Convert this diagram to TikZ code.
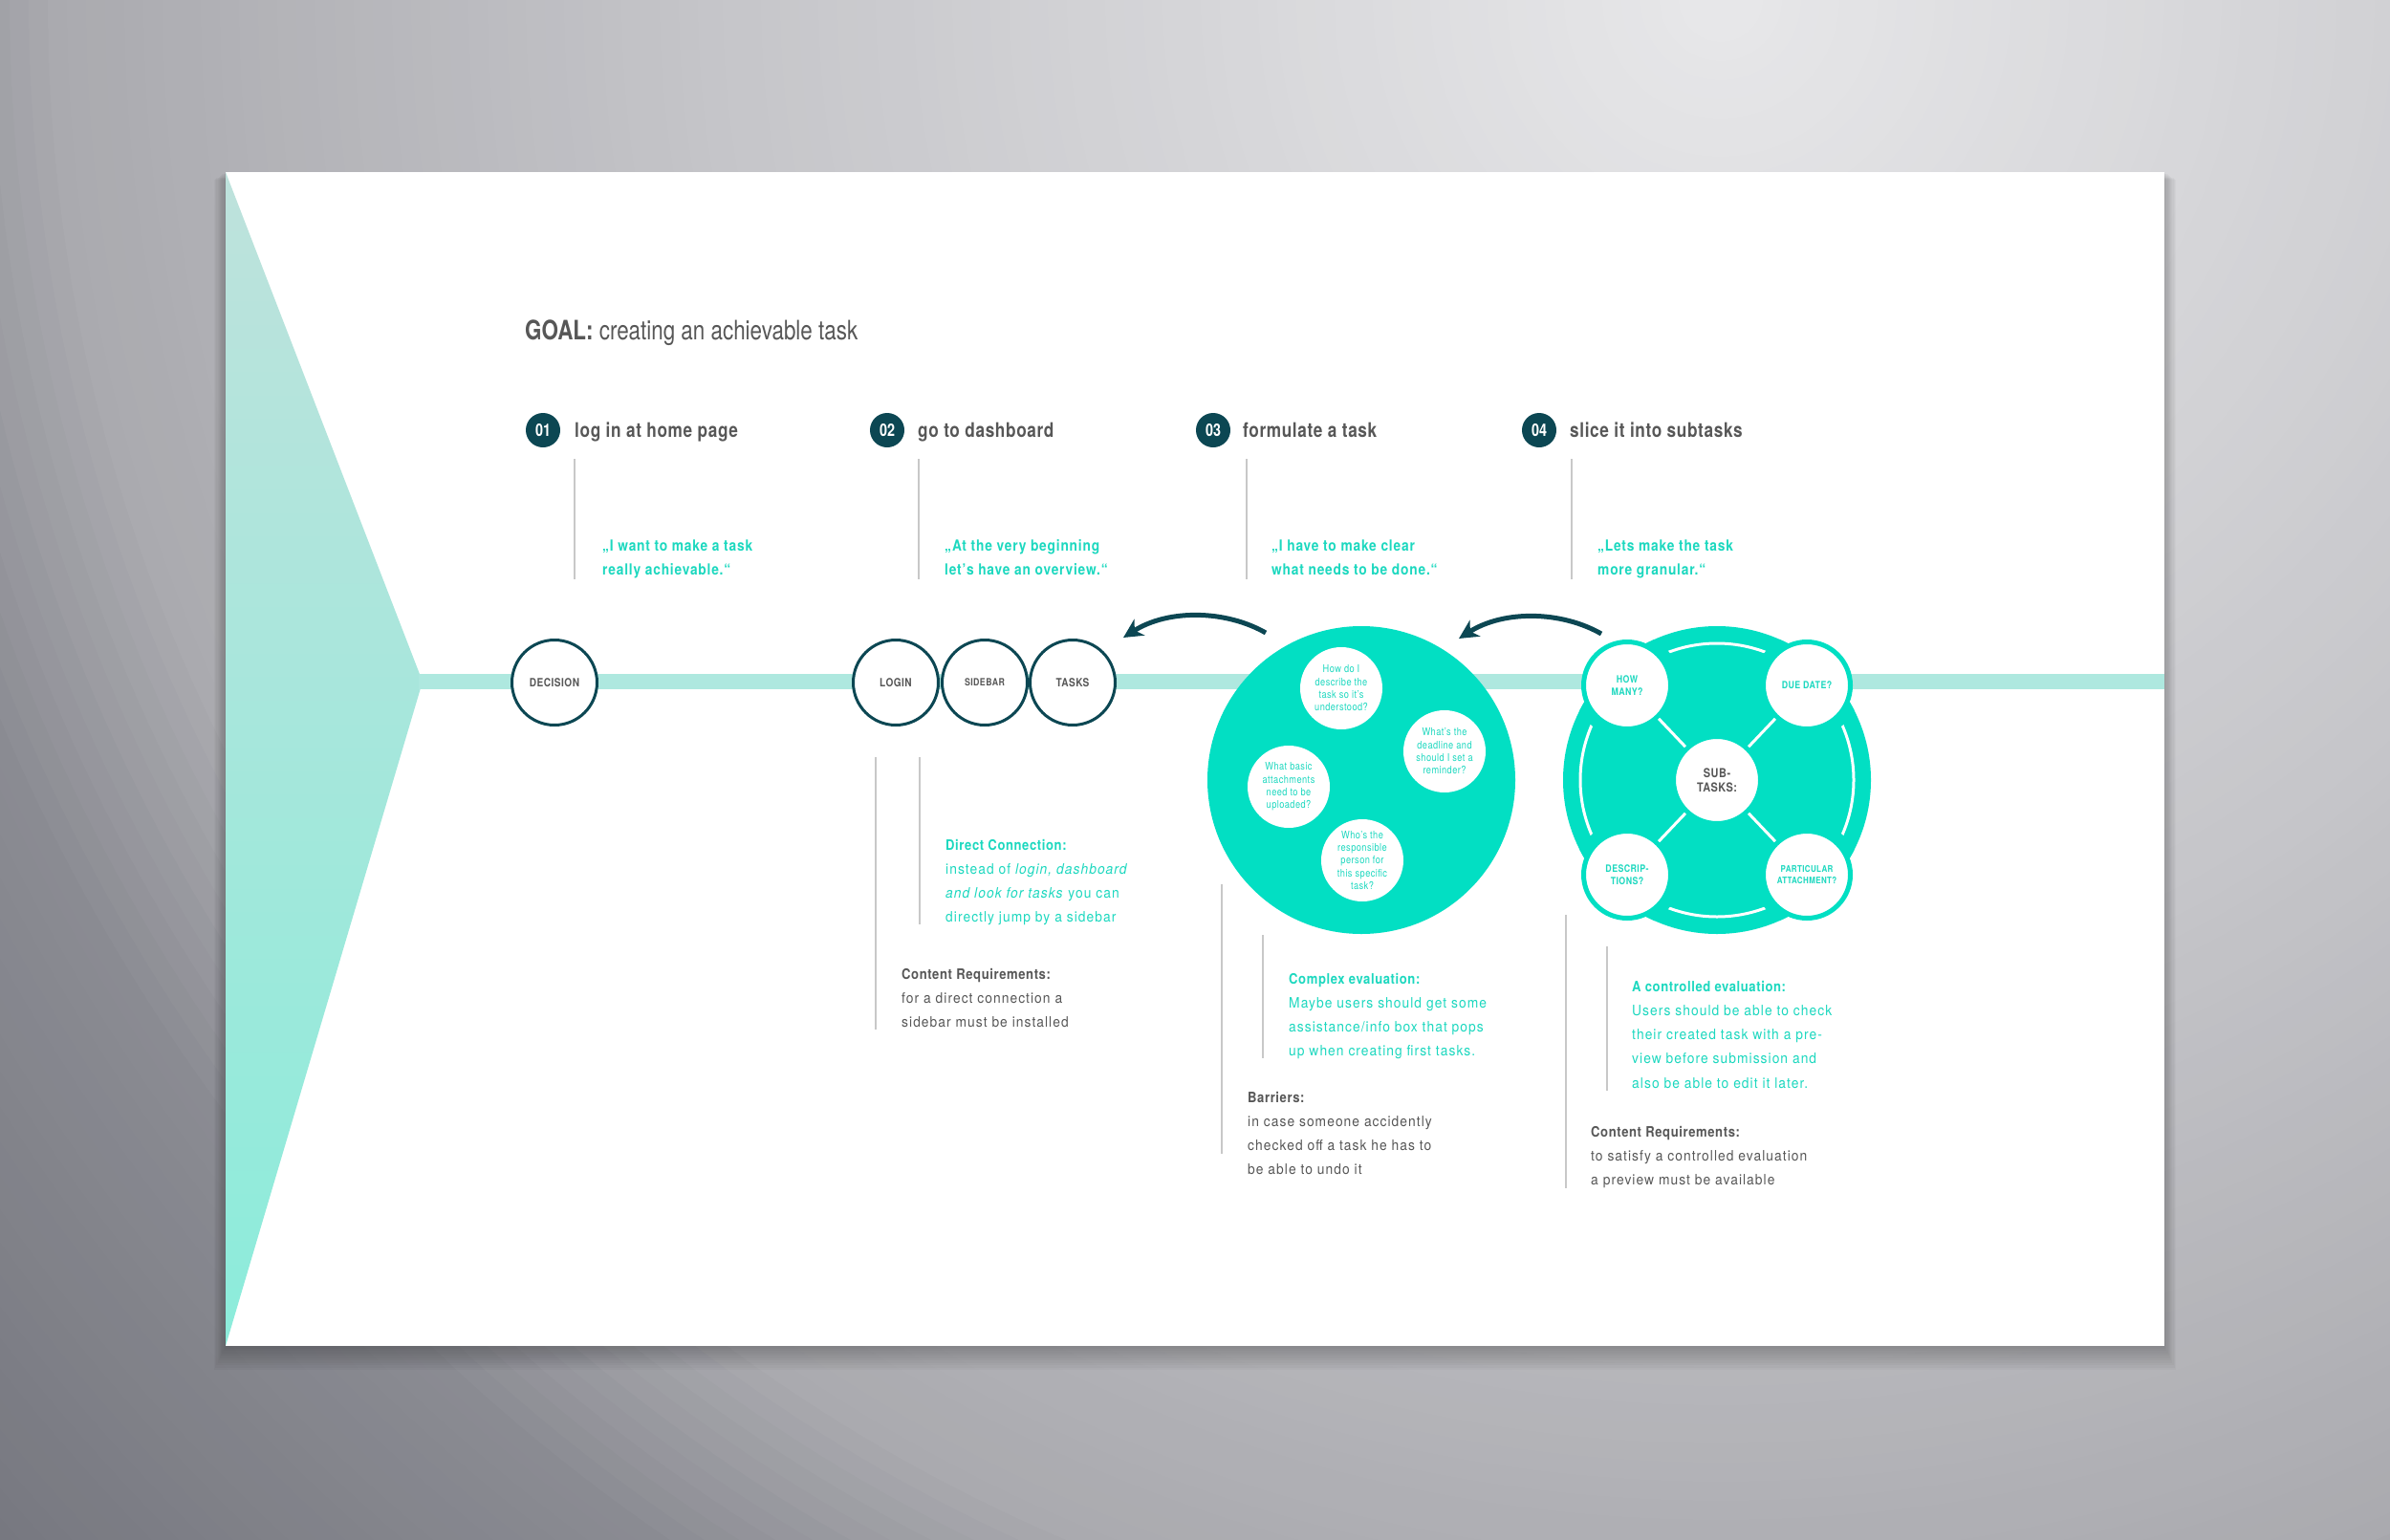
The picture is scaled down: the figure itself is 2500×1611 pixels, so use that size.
\documentclass[tikz,border=0pt]{standalone}
\usepackage{fontspec}
\setmainfont{TeX Gyre Heros}
\newfontfamily\cnd{TeX Gyre Heros}[FakeStretch=0.80]
\newfontfamily\ttl{TeX Gyre Heros}[FakeStretch=0.82,LetterSpace=3]
\newfontfamily\qfont{TeX Gyre Heros}[FakeStretch=0.86,LetterSpace=5]
\newfontfamily\bdy{TeX Gyre Heros}[FakeStretch=0.92,LetterSpace=7]
\newfontfamily\bdyb{TeX Gyre Heros}[FakeStretch=0.87,LetterSpace=4]
\newfontfamily\smf{TeX Gyre Heros}[FakeStretch=0.84,LetterSpace=4]
\usetikzlibrary{arrows.meta}
\definecolor{tealc}{HTML}{02DFC3}
\definecolor{tealt}{HTML}{1CD8BF}
\definecolor{bandc}{HTML}{AEE8DF}
\definecolor{darkc}{HTML}{0C4753}
\definecolor{grayt}{HTML}{575757}
\definecolor{vlinec}{HTML}{C8C8C8}
\definecolor{triTop}{HTML}{BEE2DC}
\definecolor{triBot}{HTML}{8CECDB}
\definecolor{bg0}{HTML}{E8E8EA}
\definecolor{bg1}{HTML}{C5C5C9}
\definecolor{bg2}{HTML}{AAAAAF}
\definecolor{bg3}{HTML}{8A8B92}
\definecolor{bg4}{HTML}{74757D}
\newcommand{\bh}[1]{{\bdyb\bfseries #1}}
\begin{document}
\begin{tikzpicture}[x=1pt,y=-1pt,
  num/.style={circle, fill=darkc, text=white, minimum size=36pt, inner sep=0pt, font=\cnd\bfseries\fontsize{18}{18}\selectfont},
  title/.style={anchor=base west, text=grayt, inner sep=0pt, font=\ttl\bfseries\fontsize{21}{21}\selectfont},
  quote/.style={anchor=base west, align=left, text=tealt, inner sep=0pt, font=\qfont\bfseries\fontsize{16}{25.5}\selectfont},
  stage/.style={circle, draw=darkc, line width=3pt, fill=white, minimum size=89pt, inner sep=0pt, text=grayt, font=\smf\bfseries\fontsize{12}{12}\selectfont},
  bigc/.style={circle, fill=tealc, minimum size=322pt, inner sep=0pt},
  qc/.style={circle, fill=white, minimum size=86pt, inner sep=0pt, align=center, text=tealt, font=\smf\fontsize{11}{13.3}\selectfont},
  sc/.style={circle, fill=white, draw=tealc, line width=5pt, minimum size=91pt, inner sep=0pt, align=center, text=tealt, font=\smf\bfseries\fontsize{10.5}{12.5}\selectfont},
  vline/.style={draw=vlinec, line width=2.5pt},
  body/.style={anchor=base west, align=left, inner sep=0pt, font=\bdy\fontsize{15}{25.3}\selectfont},
  arr/.style={draw=darkc, line width=5pt, -{Stealth[length=20pt,width=20pt,inset=6pt]}}
]
\useasboundingbox (0,0) rectangle (2500,1611);
% background (concentric bands)
\coordinate (bgc) at (1800,0);
\begin{scope}
\clip (0,0) rectangle (2500,1611);
\fill[bg4] (0,0) rectangle (2500,1611);
\foreach \r in {2500,2480,...,1980}{
  \pgfmathsetmacro\p{(\r-1970)/5.3}
  \fill[bg4!\p!bg3] (bgc) circle[radius=\r pt];
}
\foreach \r in {1970,1950,...,1760}{
  \pgfmathsetmacro\p{(\r-1750)/2.2}
  \fill[bg3!\p!bg2] (bgc) circle[radius=\r pt];
}
\foreach \r in {1750,1730,...,1070}{
  \pgfmathsetmacro\p{(\r-1064)/6.86}
  \fill[bg2!\p!bg1] (bgc) circle[radius=\r pt];
}
\foreach \r in {1064,1044,...,20}{
  \pgfmathsetmacro\p{\r/10.64}
  \fill[bg1!\p!bg0] (bgc) circle[radius=\r pt];
}
\end{scope}
% card shadow
\foreach \i in {1,...,10}{
  \fill[black, opacity=0.022] (236-\i*1.2,180+\i*0.8) rectangle (2264+\i*1.2,1408+\i*2.5);
}
% card
\fill[white] (236,180) rectangle (2264,1408);
\shade[top color=triTop, bottom color=triBot] (236,180) -- (442,713) -- (236,1408) -- cycle;
\fill[bandc] (438,705) rectangle (2264,721);

% goal
\node[anchor=base west, inner sep=0pt, text=grayt, font=\cnd\fontsize{28}{28}\selectfont] (goal) at (549,355) {\textbf{GOAL:} creating an achievable task};

% steps
\node[num] (n1) at (568,450) {01};
\node[num] (n2) at (928,450) {02};
\node[num] (n3) at (1269,450) {03};
\node[num] (n4) at (1610,450) {04};
\node[title] (t1) at (601,457) {log in at home page};
\node[title] (t2) at (960,457) {go to dashboard};
\node[title] (t3) at (1300,457) {formulate a task};
\node[title] (t4) at (1642,457) {slice it into subtasks};
\draw[vline] (601,480) -- (601,606);
\draw[vline] (961,480) -- (961,606);
\draw[vline] (1304,480) -- (1304,606);
\draw[vline] (1644,480) -- (1644,606);
\node[quote] (q1) at (630,601.5) {„I want to make a task\\really achievable.“};
\node[quote] (q2) at (988,601.5) {„At the very beginning\\let’s have an overview.“};
\node[quote] (q3) at (1330,601.5) {„I have to make clear\\what needs to be done.“};
\node[quote] (q4) at (1671,601.5) {„Lets make the task\\more granular.“};

% stage circles
\node[stage] (decision) at (580,714) {DECISION};
\node[stage] (login) at (937,714) {LOGIN};
\node[stage, font=\smf\bfseries\fontsize{10.5}{10.5}\selectfont] (sidebar) at (1030,714) {SIDEBAR};
\node[stage] (tasks) at (1122,714) {TASKS};

% step 3 circle
\node[bigc] (big3) at (1424,816) {};
\node[qc] (qa) at (1403,720) {How do I\\describe the\\task so it’s\\understood?};
\node[qc] (qb) at (1511,786) {What’s the\\deadline and\\should I set a\\reminder?};
\node[qc] (qcc) at (1348,823) {What basic\\attachments\\need to be\\uploaded?};
\node[qc] (qd) at (1425,900) {Who’s the\\responsible\\person for\\this specific\\task?};

% step 4 circle
\node[bigc] (big4) at (1796,816) {};
\draw[white, line width=3pt] (big4.center) circle[radius=143pt];
\begin{scope}
\clip (big4.center) circle[radius=161pt];
\foreach \p in {(1702,717),(1890,717),(1702,915),(1890,915)}{
  \fill[tealc] \p circle[radius=56pt];
}
\end{scope}
\node[sc] (how) at (1702,717) {HOW\\MANY?};
\node[sc] (due) at (1890,717) {DUE DATE?};
\node[sc] (desc) at (1702,915) {DESCRIP-\\TIONS?};
\node[sc, font=\smf\bfseries\fontsize{9.5}{12}\selectfont] (part) at (1890,915) {PARTICULAR\\ATTACHMENT?};
\node[sc, text=grayt, font=\smf\bfseries\fontsize{13}{15}\selectfont] (sub) at (1796,816) {SUB-\\TASKS:};
\draw[white, line width=3pt] (sub) -- (how);
\draw[white, line width=3pt] (sub) -- (due);
\draw[white, line width=3pt] (sub) -- (desc);
\draw[white, line width=3pt] (sub) -- (part);

% arrows
\coordinate (a1s) at (1324,662);
\coordinate (a1e) at (1175,667);
\coordinate (a2s) at (1675,663);
\coordinate (a2e) at (1526,668);
\draw[arr] (a1s) .. controls (1282,638) and (1222,637) .. (a1e);
\draw[arr] (a2s) .. controls (1633,639) and (1573,638) .. (a2e);

% step 2 notes
\draw[vline] (916,792) -- (916,1077);
\draw[vline] (962,792) -- (962,967);
\node[body, text=tealt] (dc) at (989,964.9) {\bh{Direct Connection:}\\instead of \textit{login, dashboard}\\\textit{and look for tasks} you can\\directly jump by a sidebar};
\node[body, text=grayt] (cr2) at (943,1074.6) {\bh{Content Requirements:}\\for a direct connection a\\sidebar must be installed};

% step 3 notes
\draw[vline] (1278,925) -- (1278,1207);
\draw[vline] (1321,978) -- (1321,1107);
\node[body, text=tealt] (ce) at (1348,1104.9) {\bh{Complex evaluation:}\\Maybe users should get some\\assistance/info box that pops\\up when creating first tasks.};
\node[body, text=grayt] (bar) at (1305,1228.9) {\bh{Barriers:}\\in case someone accidently\\checked off a task he has to\\be able to undo it};

% step 4 notes
\draw[vline] (1638,957) -- (1638,1243);
\draw[vline] (1681,990) -- (1681,1141);
\node[body, text=tealt] (ace) at (1707,1138.2) {\bh{A controlled evaluation:}\\Users should be able to check\\their created task with a pre-\\view before submission and\\also be able to edit it later.};
\node[body, text=grayt] (cr4) at (1664,1239.6) {\bh{Content Requirements:}\\to satisfy a controlled evaluation\\a preview must be available};
\end{tikzpicture}
\end{document}
